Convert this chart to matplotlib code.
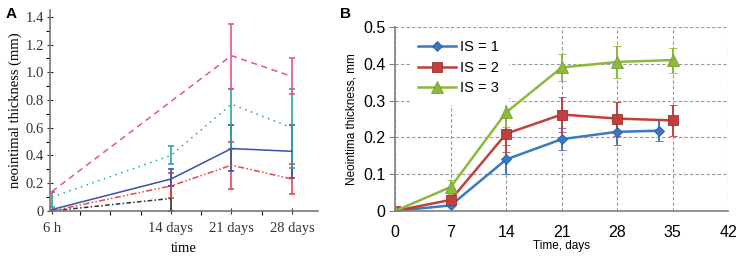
import matplotlib.pyplot as plt
import numpy as np

# ---- panel A data (days; 6 h = 0.25 d)
a_labels = ['6 h', '14 days', '21 days', '28 days']
a_x = [0.25, 14, 21, 28]

pink_x = [0.25, 21, 28]
pink_y = [0.14, 1.12, 0.97]
pink_lo = [0.0, 0.24, 0.13]
pink_hi = [0.0, 0.23, 0.13]

teal_y = [0.10, 0.40, 0.77, 0.60]
teal_lo = [0.07, 0.06, 0.32, 0.29]
teal_hi = [0.04, 0.07, 0.11, 0.28]

blue_y = [0.01, 0.23, 0.45, 0.43]
blue_lo = [0.0, 0.05, 0.16, 0.19]
blue_hi = [0.0, 0.07, 0.17, 0.19]

red_y = [0.0, 0.18, 0.33, 0.23]
red_lo = [0.0, 0.09, 0.17, 0.11]
red_hi = [0.0, 0.09, 0.17, 0.11]

black_x = [0.25, 14]
black_y = [0.0, 0.09]
black_lo = [0.0, 0.09]
black_hi = [0.0, 0.09]

# ---- panel B data
b_days = [0, 7, 14, 21, 28, 35]
is1_x = [0, 7, 14, 21, 28, 33.3]
is1_y = [0.0, 0.015, 0.14, 0.195, 0.215, 0.218]
is1_e = [0.0, 0.0, 0.04, 0.03, 0.035, 0.028]
is2_y = [0.0, 0.03, 0.21, 0.262, 0.251, 0.246]
is2_e = [0.0, 0.0, 0.05, 0.047, 0.046, 0.041]
is3_y = [0.0, 0.065, 0.268, 0.39, 0.405, 0.41]
is3_e = [0.0, 0.02, 0.04, 0.037, 0.043, 0.034]

fig = plt.figure(figsize=(7.43, 2.62), dpi=100)

# ================= panel A
axA = fig.add_axes([0.067, 0.195, 0.361, 0.767])
serif = 'Liberation Serif'
kw = dict(capsize=2.5, elinewidth=1.2, capthick=1.2, lw=1.1)

axA.errorbar(black_x, black_y, yerr=[black_lo, black_hi], color='#333333',
             ls=(0, (3, 1.5, 1, 1.5)), **kw)
axA.errorbar(a_x, red_y, yerr=[red_lo, red_hi], color='#e8474a',
             ls=(0, (4, 1.5, 1, 1.5, 1, 1.5)), **kw)
axA.errorbar(a_x, blue_y, yerr=[blue_lo, blue_hi], color='#3c50a8', ls='-', **kw)
axA.errorbar(a_x, teal_y, yerr=[teal_lo, teal_hi], color='#2fa39c', ls=(0, (1, 3)), **kw)
axA.errorbar(pink_x, pink_y, yerr=[pink_lo, pink_hi], color='#e0559a',
             ls=(0, (4, 3)), **kw)

axA.set_xlim(0, 31)
axA.set_ylim(0, 1.45)
axA.set_xticks(a_x)
axA.set_xticklabels(a_labels, family=serif, fontsize=10.5)
axA.set_xticks([3.5, 7, 10.5, 17.5, 24.5], minor=True)
yt = np.arange(0, 1.41, 0.2)
axA.set_yticks(yt)
axA.set_yticklabels(['0'] + ['%.1f' % v for v in yt[1:]], family=serif, fontsize=10.5)
axA.set_yticks(np.arange(0.1, 1.45, 0.2), minor=True)
axA.tick_params(colors='#333333', length=4, width=0.8, direction='inout')
axA.tick_params(axis='x', pad=6)
axA.tick_params(axis='y', pad=2)
axA.tick_params(which='minor', length=3, width=0.8)
for s in ['top', 'right']:
    axA.spines[s].set_visible(False)
for s in ['left', 'bottom']:
    axA.spines[s].set_color('#777777')
    axA.spines[s].set_linewidth(1.2)
axA.set_xlabel('time', family=serif, fontsize=10.5, labelpad=5)
axA.set_ylabel('neointimal thickness (mm)', family=serif, fontsize=10.5, labelpad=3)

# ================= panel B
axB = fig.add_axes([0.532, 0.195, 0.448, 0.702])
sans = 'Liberation Sans'
bkw = dict(capsize=3, elinewidth=1.4, capthick=1.4, lw=1.8, markeredgewidth=0.6)
c1 = axB.errorbar(is1_x, is1_y, yerr=is1_e, color='#3a78c3', marker='D', ms=5.5,
                  mec='#2d5f9e', **bkw)
c2 = axB.errorbar(b_days, is2_y, yerr=is2_e, color='#c0403c', marker='s', ms=7.5,
                  mec='#a0302c', **bkw)
c3 = axB.errorbar(b_days, is3_y, yerr=is3_e, color='#8db83c', marker='^', ms=8,
                  mec='#78a030', **bkw)

axB.set_xlim(0, 42)
axB.set_ylim(0, 0.5)
axB.set_xticks(range(0, 43, 7))
axB.set_yticks(np.arange(0, 0.51, 0.1))
axB.set_yticklabels(['0'] + ['%.1f' % v for v in np.arange(0.1, 0.51, 0.1)])
axB.tick_params(labelsize=11.5)
axB.tick_params(axis='x', length=0, pad=10)
axB.tick_params(axis='y', length=4, color='#808080', pad=3)
for lab in axB.get_xticklabels() + axB.get_yticklabels():
    lab.set_family(sans)
axB.grid(True, ls=(0, (3, 2)), color='#999999', lw=0.8)
axB.set_axisbelow(True)
for s in ['top', 'right']:
    axB.spines[s].set_visible(False)
for s in ['left', 'bottom']:
    axB.spines[s].set_color('#808080')
    axB.spines[s].set_linewidth(1.2)
axB.set_xlabel('Time, days', family=sans, fontsize=8.5, labelpad=0)
axB.set_ylabel('Neointima thickness, mm', family=sans, fontsize=8.5, labelpad=4)
# legend shows only the line + marker, not the error bars
leg = axB.legend([c1.lines[0], c2.lines[0], c3.lines[0]], ['IS = 1', 'IS = 2', 'IS = 3'],
                 loc='upper left', frameon=True, fancybox=False, framealpha=1,
                 edgecolor='white', prop={'family': sans, 'size': 10.5},
                 handlelength=2.6, handletextpad=0.25, borderaxespad=0.3,
                 labelspacing=0.45, borderpad=0.6, bbox_to_anchor=(0.03, 1.0))

fig.text(0.007, 0.975, 'A', fontsize=11, fontweight='bold', family=sans, va='top')
fig.text(0.458, 0.975, 'B', fontsize=11, fontweight='bold', family=sans, va='top')

fig.savefig('out.png', dpi=100)
